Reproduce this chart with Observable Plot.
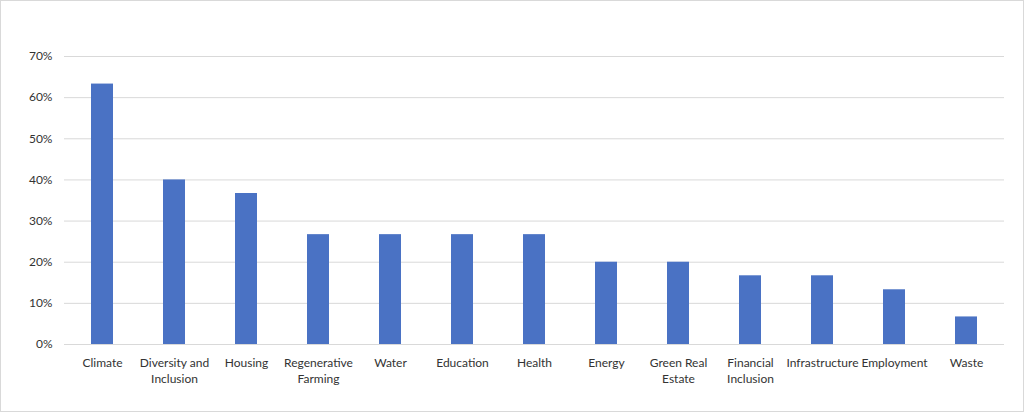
<!DOCTYPE html>
<html>
<head>
<meta charset="utf-8">
<script src="https://cdn.jsdelivr.net/npm/d3@7"></script>
<script src="https://cdn.jsdelivr.net/npm/@observablehq/plot@0.6"></script>
<style>
  html, body { margin: 0; padding: 0; background: #fff; }
  #wrap { position: relative; width: 1024px; height: 412px; }
  #border { position: absolute; left: 0; top: 0; width: 1024px; height: 412px; box-sizing: border-box; border: 1px solid #d9d9d9; pointer-events: none; }
</style>
</head>
<body>
<div id="wrap"><div id="border"></div></div>
<script>
const categories = ["Climate", "Diversity and Inclusion", "Housing", "Regenerative Farming", "Water", "Education", "Health", "Energy", "Green Real Estate", "Financial Inclusion", "Infrastructure", "Employment", "Waste"];
const tickLabels = ["Climate", "Diversity and\nInclusion", "Housing", "Regenerative\nFarming", "Water", "Education", "Health", "Energy", "Green Real\nEstate", "Financial\nInclusion", "Infrastructure", "Employment", "Waste"];
const values = [0.633, 0.40, 0.367, 0.267, 0.267, 0.267, 0.267, 0.20, 0.20, 0.167, 0.167, 0.133, 0.067];
const yTicks = [0, 0.1, 0.2, 0.3, 0.4, 0.5, 0.6, 0.7];

const data = categories.map((c, i) => ({category: c, value: values[i]}));
const labelOf = new Map(categories.map((c, i) => [c, tickLabels[i]]));

const chart = Plot.plot({
  width: 1024,
  height: 412,
  marginLeft: 64,
  marginRight: 20,
  marginTop: 56,
  marginBottom: 68,
  style: {fontFamily: "Lato, 'Liberation Sans', sans-serif", fontSize: "12px", color: "#333", background: "#fff"},
  x: {domain: categories, paddingInner: 0.7, paddingOuter: 0.35, align: 0.5},
  y: {domain: [0, 0.7]},
  marks: [
    Plot.gridY(yTicks, {stroke: "#d9d9d9", strokeOpacity: 1, strokeWidth: 1}),
    Plot.barY(data, {x: "category", y: "value", fill: "#4a72c4"}),
    Plot.axisY(yTicks, {tickSize: 0, tickPadding: 12, tickFormat: d3.format(".0%"), label: null, fill: "#333", fontSize: 12}),
    Plot.axisX({tickSize: 0, tickPadding: 11, tickFormat: d => labelOf.get(d), label: null, lineHeight: 1.33, fill: "#333", fontSize: 12})
  ]
});
document.getElementById("wrap").prepend(chart);
</script>
</body>
</html>
